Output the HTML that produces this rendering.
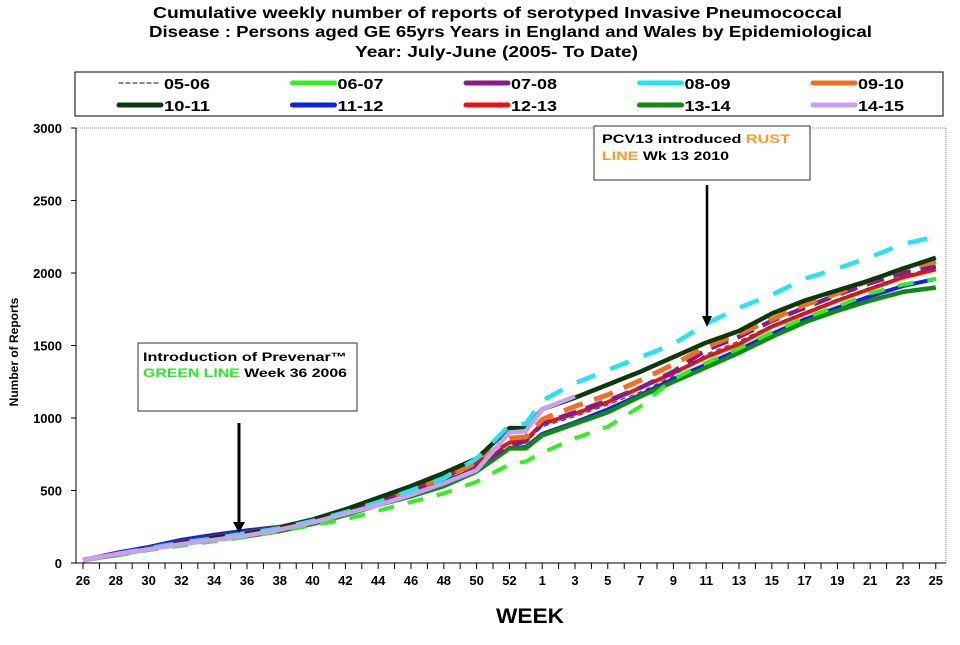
<!DOCTYPE html>
<html><head><meta charset="utf-8">
<style>
body{margin:0;background:#fff;width:960px;height:640px;overflow:hidden;font-family:"Liberation Sans",Arial,sans-serif}
</style></head>
<body>
<svg id="chart" width="960" height="640" xmlns="http://www.w3.org/2000/svg" font-family="Liberation Sans, Arial, sans-serif">
<g font-weight="bold" font-size="16" fill="#000">
<text x="153" y="18" textLength="689" lengthAdjust="spacingAndGlyphs">Cumulative weekly number of reports of serotyped Invasive Pneumococcal</text>
<text x="149" y="37" textLength="723" lengthAdjust="spacingAndGlyphs">Disease :  Persons aged GE 65yrs Years in England and Wales by Epidemiological</text>
<text x="355" y="57" textLength="283" lengthAdjust="spacingAndGlyphs">Year: July-June (2005- To Date)</text>
</g>
<rect x="75" y="72" width="868" height="44" fill="#fff" stroke="#000" stroke-width="1"/>
<g id="legend"></g>
<rect x="76" y="128" width="870" height="435" fill="none" stroke="#888" stroke-width="1" stroke-dasharray="1 1"/>
<g id="yaxis"></g>
<g id="xaxis"></g>
<g id="series"></g>
<text transform="translate(18,352) rotate(-90)" text-anchor="middle" font-size="12" font-weight="bold">Number of Reports</text>
<text x="530" y="623" text-anchor="middle" font-size="21" font-weight="bold" textLength="68" lengthAdjust="spacingAndGlyphs">WEEK</text>
<g>
<rect x="138" y="343" width="219" height="68" fill="#fff" stroke="#333"/>
<text x="143" y="361" font-size="12" font-weight="bold" textLength="204" lengthAdjust="spacingAndGlyphs">Introduction of Prevenar™</text>
<text x="143" y="377" font-size="12" font-weight="bold" textLength="204" lengthAdjust="spacingAndGlyphs"><tspan fill="#22ee22">GREEN  LINE</tspan> Week 36 2006</text>
<line x1="239" y1="423" x2="239" y2="524" stroke="#000" stroke-width="3"/>
<polygon points="233,522 245,522 239,533" fill="#000"/>
</g>
<g>
<rect x="594" y="126" width="216" height="54" fill="#fff" stroke="#333"/>
<text x="602" y="143" font-size="12" font-weight="bold" textLength="188" lengthAdjust="spacingAndGlyphs">PCV13 introduced <tspan fill="#ff9922">RUST</tspan></text>
<text x="602" y="160" font-size="12" font-weight="bold" textLength="127" lengthAdjust="spacingAndGlyphs"><tspan fill="#ff9922">LINE</tspan> Wk 13 2010</text>
<line x1="707" y1="185" x2="707" y2="318" stroke="#000" stroke-width="2.5"/>
<polygon points="702,316 712,316 707,327" fill="#000"/>
</g>
</svg>
<script>
const weeks=[26,27,28,29,30,31,32,33,34,35,36,37,38,39,40,41,42,43,44,45,46,47,48,49,50,51,52,53,1,2,3,4,5,6,7,8,9,10,11,12,13,14,15,16,17,18,19,20,21,22,23,24,25];
const ptWeeks=[26,28,30,32,34,36,38,40,42,44,46,48,50,52,53,1,3,5,7,9,11,13,15,17,19,21,23,25];
const yTicks=[0,500,1000,1500,2000,2500,3000];
const seriesNames=["05-06","06-07","07-08","08-09","09-10","10-11","11-12","12-13","13-14","14-15"];
const s0506=[20,60,100,140,170,200,240,290,350,420,490,570,660,800,830,940,1010,1090,1180,1290,1440,1530,1640,1730,1820,1900,1980,2040];
const s0607=[20,50,90,120,150,180,220,260,300,360,420,480,560,680,700,760,860,940,1080,1270,1380,1480,1590,1690,1770,1860,1920,1960];
const s0708=[20,60,95,135,165,195,235,285,345,415,490,570,665,810,840,960,1040,1120,1210,1320,1470,1560,1670,1760,1850,1930,2000,2045];
const s0809=[20,60,100,140,170,205,240,290,350,420,500,585,720,950,960,1120,1240,1330,1420,1510,1650,1760,1850,1960,2030,2110,2200,2250];
const s0910=[20,60,100,140,170,205,245,295,360,430,505,590,690,860,870,990,1080,1160,1260,1370,1490,1580,1680,1780,1860,1950,2030,2080];
const s1011=[20,60,100,140,175,205,245,300,370,450,530,620,720,930,930,1060,1140,1230,1320,1420,1520,1600,1720,1810,1880,1950,2030,2105];
const s1112=[20,70,110,160,195,225,250,295,350,410,480,560,650,790,800,890,970,1060,1160,1270,1370,1470,1580,1680,1760,1840,1910,1960];
const s1213=[20,65,100,145,180,210,250,300,370,440,510,590,690,830,850,960,1030,1110,1210,1310,1420,1510,1630,1720,1810,1890,1970,2025];
const s1314=[20,55,95,130,160,185,220,270,330,400,460,530,630,790,790,880,960,1040,1150,1250,1350,1450,1560,1660,1740,1810,1870,1900];
const s1415=[20,60,95,130,160,190,230,280,340,400,470,550,640,900,910,1060,1150,null,null,null,null,null,null,null,null,null,null,null];
const seriesValues=[s0506,s0607,s0708,s0809,s0910,s1011,s1112,s1213,s1314,s1415];
const styles=[
 {c:"#444",w:1.2,d:"5 4"},{c:"#33ee22",w:4,d:"16 14"},{c:"#8a1a8a",w:4.5,d:"18 10"},
 {c:"#22e5f0",w:4.5,d:"20 16"},{c:"#f07020",w:5,d:"20 12"},{c:"#0a3a0a",w:4.5,d:""},
 {c:"#1020ee",w:4,d:""},{c:"#ee1010",w:4,d:""},{c:"#118a11",w:4.5,d:""},{c:"#c8a0f0",w:4.5,d:""}];
const drawOrder=[6,8,1,7,2,0,4,5,3,9];
const NS="http://www.w3.org/2000/svg";
function x(w){return 83+16.4*weeks.indexOf(w);}
function y(v){return 563-v*435/3000;}
function mk(tag,attrs,parent){const e=document.createElementNS(NS,tag);for(const k in attrs)e.setAttribute(k,attrs[k]);parent.appendChild(e);return e;}
const ya=document.getElementById('yaxis');
mk('line',{x1:76,y1:128,x2:76,y2:563,stroke:'#000'},ya);
yTicks.forEach(t=>{
 mk('line',{x1:71,y1:y(t),x2:76,y2:y(t),stroke:'#000'},ya);
 const tx=mk('text',{x:62,y:y(t)+5,'text-anchor':'end','font-size':13,'font-weight':'bold'},ya);
 
 
 tx.textContent=t;
});
const xa=document.getElementById('xaxis');
mk('line',{x1:76,y1:563,x2:946,y2:563,stroke:'#000'},xa);
weeks.forEach((w,i)=>{
 mk('line',{x1:x(w),y1:563,x2:x(w),y2:569,stroke:'#000'},xa);
 if(i===27) return;
 const even=(i<27)?(i%2===0):((i-28)%2===0);
 if(even){
  const tx=mk('text',{x:x(w),y:585,'text-anchor':'middle','font-size':13,'font-weight':'bold'},xa);
  
  
  tx.textContent=w;
 }
});
const sg=document.getElementById('series');
drawOrder.forEach(si=>{
 const vals=seriesValues[si];let d="";let started=false;
 vals.forEach((v,i)=>{if(v==null)return;d+=(started?"L":"M")+x(ptWeeks[i]).toFixed(1)+","+y(v).toFixed(1)+" ";started=true;});
 const st=styles[si];
 const p=mk('path',{d:d,fill:'none',stroke:st.c,'stroke-width':st.w,'stroke-linejoin':'round'},sg);
 if(st.d)p.setAttribute('stroke-dasharray',st.d);
 
 
});
const lg=document.getElementById('legend');
seriesNames.forEach((n,i)=>{
 const col=i%5,row=Math.floor(i/5);
 const lx=119+col*173.5,ly=83+row*22;
 const st=styles[i];
 const g=mk('g',{},lg);
 
 
 const l=mk('line',{x1:lx,y1:ly,x2:lx+42,y2:ly,stroke:st.c,'stroke-width':i===0?1.2:5,'stroke-linecap':'round'},g);
 if(i===0)l.setAttribute('stroke-dasharray','4 3');
 const t=mk('text',{x:lx+45,y:ly+6,'font-size':15,'font-weight':'bold',textLength:46,lengthAdjust:'spacingAndGlyphs'},g);
 t.textContent=n;
});
</script>
</body></html>
